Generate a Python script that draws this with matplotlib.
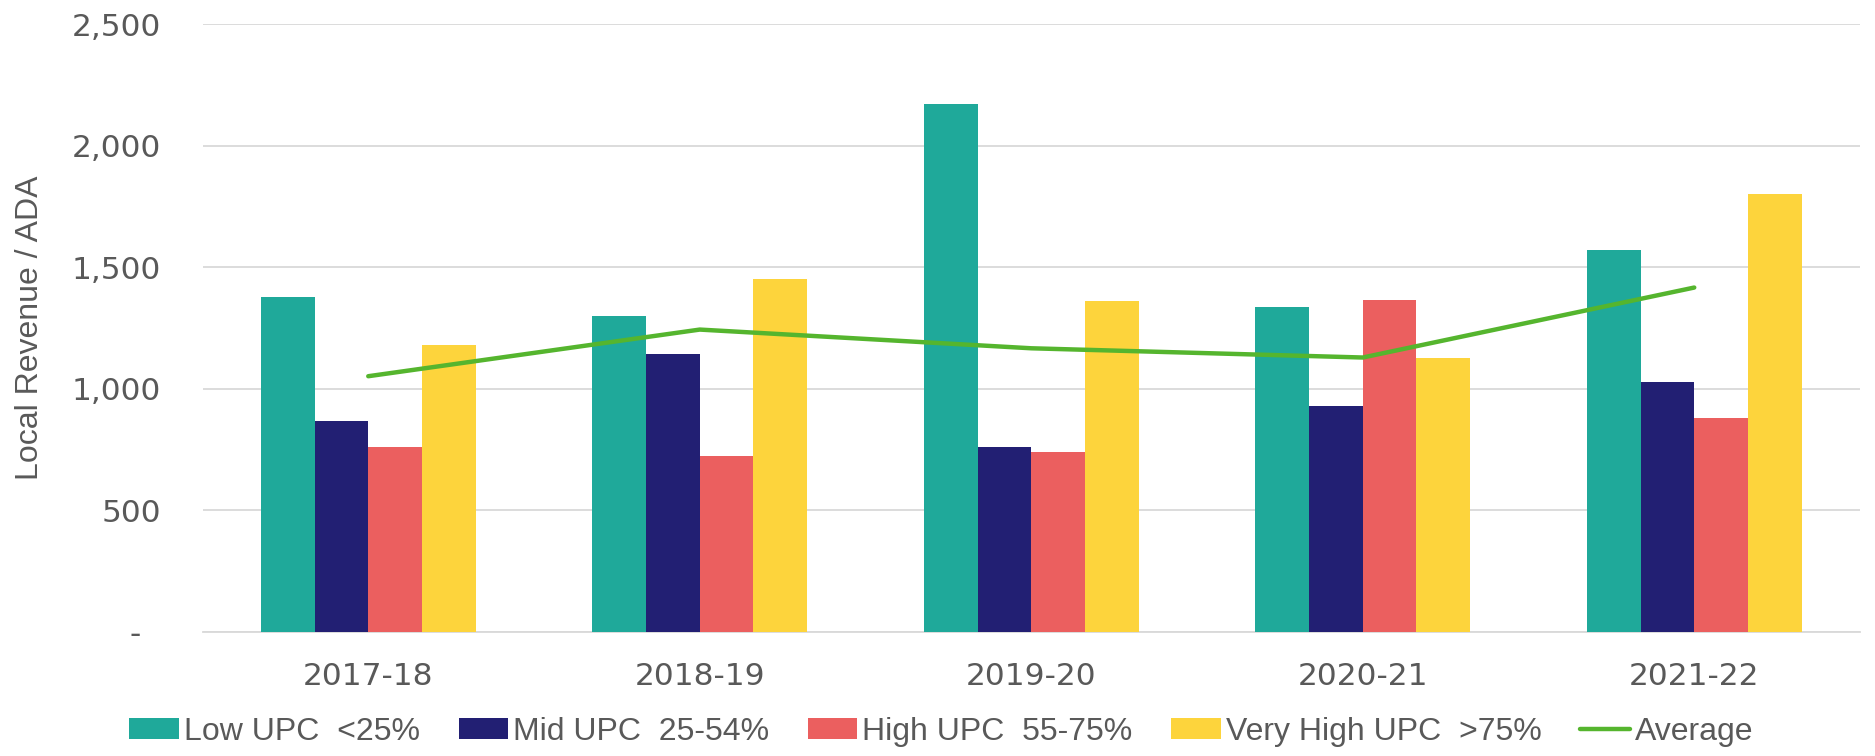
import matplotlib
matplotlib.use("Agg")
import matplotlib.pyplot as plt
import numpy as np

years = ["2017-18", "2018-19", "2019-20", "2020-21", "2021-22"]
low_upc = [1378, 1300, 2172, 1335, 1571]
mid_upc = [865, 1141, 759, 929, 1028]
high_upc = [760, 722, 738, 1363, 878]
very_high_upc = [1181, 1450, 1362, 1124, 1803]
average = [1051, 1243, 1166, 1128, 1416]
series_names = ["Low UPC  <25%", "Mid UPC  25-54%", "High UPC  55-75%", "Very High UPC  >75%"]
y_ticks = [0, 500, 1000, 1500, 2000, 2500]
y_tick_labels = ["-  ", "500", "1,000", "1,500", "2,000", "2,500"]

colors = ["#1FA99A", "#221F73", "#EB5F5F", "#FDD43C"]
line_color = "#55B52E"
text_color = "#595959"

narrow = "Liberation Sans"

fig = plt.figure(figsize=(18.75, 7.56), dpi=100)
ax = fig.add_axes([0.108, 0.1646, 0.884, 0.8034])

x = np.arange(len(years))
w = 0.162
data = [low_upc, mid_upc, high_upc, very_high_upc]
handles = []
for i, (vals, c, n) in enumerate(zip(data, colors, series_names)):
    b = ax.bar(x + (i - 1.5) * w, vals, width=w, color=c, label=n, zorder=3)
    handles.append(b)
ln, = ax.plot(x, average, color=line_color, lw=3.2, label="Average", zorder=4, solid_capstyle="round")
handles.append(ln)

ax.set_xlim(-0.5, 4.5)
ax.set_ylim(0, 2500)
ax.set_yticks(y_ticks)
ax.set_yticklabels(y_tick_labels)
ax.set_xticks(x)
ax.set_xticklabels(years)
ax.tick_params(axis="both", length=0, colors=text_color, labelsize=22.5)
ax.tick_params(axis="y", pad=30)
ax.tick_params(axis="x", pad=22)
for lab in ax.get_xticklabels() + ax.get_yticklabels():
    lab.set_family("DejaVu Sans")
ax.grid(axis="y", color="#D9D9D9", lw=1.3, zorder=0)
for s in ["top", "right", "left"]:
    ax.spines[s].set_visible(False)
ax.spines["bottom"].set_color("#D9D9D9")
ax.spines["bottom"].set_linewidth(1.3)

ax.set_ylabel("Local Revenue / ADA", fontsize=23, color=text_color, family=narrow)
ax.yaxis.set_label_coords(-0.095, 0.5)

leg = fig.legend(handles=handles, labels=series_names + ["Average"],
                 loc="center", bbox_to_anchor=(0.502, 0.032), ncol=5, frameon=False,
                 prop={"family": narrow, "size": 23}, labelcolor=text_color,
                 handlelength=1.55, handleheight=0.65, handletextpad=0.15, columnspacing=1.22)
fig.savefig("out.png", dpi=100)
